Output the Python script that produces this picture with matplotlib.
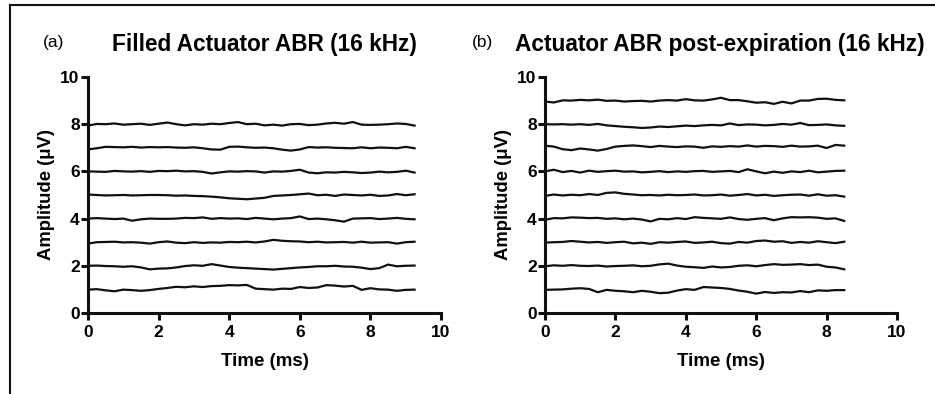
import numpy as np
import matplotlib
matplotlib.use("Agg")
import matplotlib.pyplot as plt
from matplotlib.lines import Line2D

plt.rcParams["font.family"] = ["Liberation Sans", "DejaVu Sans"]

# time samples (ms)
t_a = np.arange(0, 9.26, 0.25)   # 38 points, panel (a)
t_b = np.arange(0, 8.51, 0.25)   # 35 points, panel (b)

# panel (a): Filled Actuator ABR traces (uV)
a8 = [7.94, 8.01, 8.00, 8.03, 7.98, 8.00, 8.02, 7.97, 8.02, 8.07, 8.00, 7.95, 8.00, 7.98, 8.02, 8.00, 8.05,
      8.09, 8.00, 8.02, 7.95, 7.98, 7.94, 8.00, 8.01, 7.96, 7.98, 8.03, 8.06, 8.02, 8.09, 7.98, 7.97, 7.98,
      8.00, 8.03, 8.01, 7.94]
a7 = [6.93, 6.98, 7.04, 7.03, 7.02, 7.04, 7.01, 7.03, 7.02, 7.03, 7.01, 7.00, 7.02, 6.98, 6.93, 6.92, 7.04,
      7.05, 7.02, 7.00, 7.01, 6.98, 6.92, 6.88, 6.93, 7.03, 7.01, 7.02, 7.00, 6.99, 6.98, 7.02, 6.98, 7.01,
      7.00, 6.98, 7.04, 6.98]
a6 = [6.00, 5.99, 5.98, 6.02, 6.00, 5.99, 6.01, 5.98, 6.02, 6.01, 6.03, 6.00, 6.01, 5.98, 5.91, 5.96, 6.00,
      5.99, 6.01, 6.00, 5.95, 6.00, 5.99, 6.02, 6.07, 5.95, 5.92, 5.96, 5.95, 5.98, 5.96, 5.93, 5.95, 5.99,
      5.96, 5.98, 6.03, 5.95]
a5 = [5.02, 5.00, 4.98, 4.99, 5.00, 4.98, 4.99, 5.00, 5.00, 4.99, 4.97, 4.98, 4.96, 4.95, 4.93, 4.90, 4.86,
      4.84, 4.82, 4.85, 4.88, 4.96, 4.98, 5.00, 5.03, 5.06, 4.99, 5.01, 4.96, 5.02, 5.00, 4.98, 5.01, 4.96,
      4.98, 5.04, 4.99, 5.03]
a4 = [4.00, 4.02, 4.00, 3.98, 4.00, 3.91, 3.97, 4.00, 3.99, 3.99, 4.00, 4.03, 4.02, 4.05, 3.99, 4.02, 4.00,
      4.01, 3.98, 4.03, 4.00, 3.97, 4.00, 4.02, 4.09, 3.98, 4.00, 3.97, 3.93, 3.87, 4.00, 4.01, 4.02, 3.98,
      4.00, 4.03, 3.99, 3.97]
a3 = [2.94, 3.00, 3.01, 3.02, 2.99, 3.00, 2.98, 2.94, 3.00, 3.03, 2.98, 2.96, 3.00, 2.97, 2.99, 2.98, 3.01,
      3.00, 3.02, 2.99, 3.03, 3.10, 3.06, 3.04, 3.03, 3.00, 3.02, 2.99, 3.00, 3.01, 2.98, 3.02, 2.98, 2.99,
      3.00, 2.94, 3.00, 3.02]
a2 = [2.00, 2.01, 1.99, 1.98, 1.96, 1.98, 1.93, 1.85, 1.88, 1.89, 1.93, 1.99, 2.02, 2.00, 2.07, 2.01, 1.95,
      1.92, 1.90, 1.88, 1.86, 1.84, 1.87, 1.90, 1.93, 1.95, 1.98, 1.98, 2.00, 1.97, 1.96, 1.92, 1.86, 1.90,
      2.05, 1.98, 2.00, 2.01]
a1 = [0.99, 1.01, 0.96, 0.92, 0.99, 0.97, 0.94, 0.97, 1.02, 1.06, 1.11, 1.09, 1.13, 1.10, 1.14, 1.15, 1.18,
      1.17, 1.19, 1.03, 1.01, 0.99, 1.03, 1.02, 1.10, 1.06, 1.08, 1.18, 1.16, 1.12, 1.15, 0.98, 1.05, 1.00,
      0.99, 0.94, 0.98, 0.99]

# panel (b): Actuator ABR post-expiration traces (uV)
b9 = [8.96, 8.92, 9.01, 9.00, 9.03, 9.01, 9.04, 8.99, 9.00, 8.96, 8.98, 8.99, 8.96, 9.00, 9.02, 9.00, 9.06,
      9.01, 9.00, 9.05, 9.12, 9.02, 9.02, 8.97, 8.91, 8.93, 8.86, 8.95, 8.88, 9.00, 9.00, 9.07, 9.08, 9.03,
      9.01]
b8 = [8.00, 7.99, 8.00, 7.98, 8.00, 7.97, 8.01, 7.95, 7.92, 7.89, 7.87, 7.84, 7.86, 7.90, 7.88, 7.91, 7.94,
      7.92, 7.95, 7.97, 7.95, 8.03, 7.96, 7.99, 7.98, 7.95, 7.97, 8.01, 7.98, 8.05, 7.96, 7.97, 7.99, 7.95,
      7.93]
b7 = [7.09, 7.05, 6.94, 6.90, 6.97, 6.93, 6.88, 6.95, 7.05, 7.08, 7.10, 7.07, 7.03, 7.08, 7.05, 7.03, 7.06,
      7.05, 7.00, 7.06, 7.04, 7.07, 7.05, 7.10, 7.05, 7.08, 7.07, 7.04, 7.09, 7.05, 7.06, 7.09, 6.99, 7.12,
      7.09]
b6 = [6.00, 6.07, 5.97, 6.02, 5.95, 6.03, 5.98, 6.01, 6.03, 5.99, 6.00, 5.96, 5.98, 6.01, 5.97, 6.00, 5.98,
      6.01, 6.02, 5.98, 6.00, 6.02, 5.97, 6.09, 6.00, 5.92, 5.99, 5.94, 6.00, 5.97, 6.03, 5.96, 5.99, 6.02,
      6.03]
b5 = [4.96, 5.02, 4.98, 5.01, 4.99, 5.04, 5.00, 5.09, 5.11, 5.05, 5.02, 4.99, 5.00, 4.98, 5.01, 4.99, 5.00,
      5.02, 4.98, 4.99, 5.02, 4.97, 5.00, 5.04, 4.98, 5.01, 4.96, 4.99, 5.01, 5.02, 4.97, 5.03, 4.97, 4.99,
      4.93]
b4 = [3.95, 4.02, 4.01, 4.05, 4.04, 4.02, 4.03, 3.99, 4.01, 3.97, 4.00, 3.96, 3.88, 3.99, 3.97, 4.02, 3.98,
      4.06, 4.03, 4.01, 3.99, 4.05, 3.98, 3.95, 3.99, 4.02, 3.93, 4.01, 4.06, 4.05, 4.06, 4.04, 3.99, 4.01,
      3.90]
b3 = [2.98, 3.00, 3.01, 3.05, 3.02, 2.99, 3.01, 2.97, 3.00, 3.02, 2.95, 2.98, 2.93, 3.00, 2.98, 3.01, 3.03,
      2.97, 2.99, 3.02, 2.96, 2.94, 3.01, 2.98, 3.05, 3.07, 3.02, 3.04, 2.97, 3.01, 2.98, 3.04, 3.00, 2.96,
      3.02]
b2 = [1.98, 2.02, 2.00, 2.03, 2.00, 1.99, 2.01, 1.97, 1.99, 2.00, 2.02, 1.98, 2.00, 2.06, 2.09, 2.01, 1.96,
      1.94, 1.91, 1.97, 1.93, 1.95, 2.00, 2.02, 1.98, 2.03, 2.07, 2.04, 2.05, 2.07, 2.03, 2.05, 1.96, 1.93,
      1.85]
b1 = [0.98, 0.99, 1.00, 1.03, 1.05, 1.02, 0.88, 0.98, 0.94, 0.92, 0.88, 0.94, 0.90, 0.84, 0.86, 0.95, 1.01,
      0.98, 1.10, 1.08, 1.06, 1.02, 0.95, 0.90, 0.82, 0.89, 0.85, 0.88, 0.87, 0.93, 0.88, 0.96, 0.94, 0.97,
      0.97]

traces_a = [a1, a2, a3, a4, a5, a6, a7, a8]
traces_b = [b1, b2, b3, b4, b5, b6, b7, b8, b9]

fig = plt.figure(figsize=(9.35, 3.94), dpi=100)
ax_a = fig.add_axes([0.0941, 0.2056, 0.3776, 0.599])
ax_b = fig.add_axes([0.5829, 0.2056, 0.3765, 0.599])

for ax, t, traces in [(ax_a, t_a, traces_a), (ax_b, t_b, traces_b)]:
    for tr in traces:
        ax.plot(t, tr, color="#111111", lw=1.6, solid_joinstyle="round")
    ax.set_xlim(0, 10)
    ax.set_ylim(0, 10)
    ax.set_xticks([0, 2, 4, 6, 8, 10])
    ax.set_yticks([0, 2, 4, 6, 8, 10])
    for s in ["top", "right"]:
        ax.spines[s].set_visible(False)
    for s in ["left", "bottom"]:
        ax.spines[s].set_linewidth(2.2)
        ax.spines[s].set_color("#111111")
    ax.tick_params(direction="out", length=5, width=2.2, color="#111111",
                   labelsize=12.5)
    ax.tick_params(axis="x", pad=4)
    ax.tick_params(axis="y", pad=1)
    for lab in ax.get_xticklabels() + ax.get_yticklabels():
        lab.set_fontweight("bold")
    ax.set_xlabel("Time (ms)", fontsize=13.5, fontweight="bold", labelpad=9)
    ax.set_ylabel("Amplitude (μV)", fontsize=13.3, fontweight="bold", labelpad=4)
    ax.patch.set_visible(False)

fig.text(0.046, 0.891, "(a)", fontsize=12.5, ha="left", va="center")
fig.text(0.283, 0.888, "Filled Actuator ABR (16 kHz)", fontsize=16.3,
         fontweight="bold", ha="center", va="center")
fig.text(0.505, 0.891, "(b)", fontsize=12.5, ha="left", va="center")
fig.text(0.770, 0.888, "Actuator ABR post-expiration (16 kHz)", fontsize=16.3,
         fontweight="bold", ha="center", va="center")

# outer frame lines (left and top)
fig.add_artist(Line2D([0.011, 0.011], [0.0, 0.987], transform=fig.transFigure,
                      color="#111111", lw=1.5))
fig.add_artist(Line2D([0.011, 1.0], [0.987, 0.987], transform=fig.transFigure,
                      color="#111111", lw=1.5))

fig.savefig("out.png", dpi=100)
